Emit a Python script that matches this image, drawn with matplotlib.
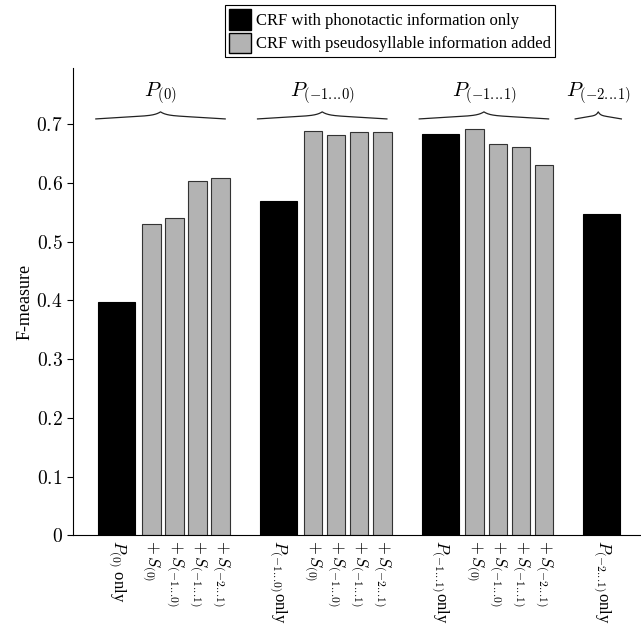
import numpy as np
import matplotlib
matplotlib.use('Agg')
import matplotlib.pyplot as plt
from matplotlib.patches import Patch

plt.rcParams['font.family'] = ['Liberation Serif', 'DejaVu Serif']
plt.rcParams['mathtext.fontset'] = 'cm'

# data
D = r'.\!.\!.\!'  # tight ellipsis
group_names = [r'$P_{(0)}$', r'$P_{(-1%s0)}$' % D, r'$P_{(-1%s1)}$' % D, r'$P_{(-2%s1)}$' % D]
phono_only = [0.397, 0.570, 0.683, 0.547]
pseudo_added = [[0.530, 0.540, 0.604, 0.608],
                [0.688, 0.681, 0.687, 0.686],
                [0.691, 0.667, 0.661, 0.631],
                []]
only_labels = [r'$P_{(0)}$ only', r'$P_{(-1%s0)}$only' % D,
               r'$P_{(-1%s1)}$only' % D, r'$P_{(-2%s1)}$only' % D]
added_labels = [r'$+\,S_{(0)}$', r'$+\,S_{(-1%s0)}$' % D,
                r'$+\,S_{(-1%s1)}$' % D, r'$+\,S_{(-2%s1)}$' % D]
yticks = [0, 0.1, 0.2, 0.3, 0.4, 0.5, 0.6, 0.7]

BLACK = 'black'
GRAY = '#b3b3b3'


def brace(ax, x0, x1, y, h):
    n = 101
    t = np.linspace(0, 1, n)
    yh = 0.55 * t + 0.45 * t ** 12
    xl = x0 + (x1 - x0) / 2 * t
    xr = x1 - (x1 - x0) / 2 * t
    xs = np.concatenate((xl, xr[::-1]))
    ys = y + h * np.concatenate((yh, yh[::-1]))
    ax.plot(xs, ys, color='#222222', lw=0.9, clip_on=False)


fig = plt.figure(figsize=(6.41, 6.28), dpi=100)
ax = fig.add_axes([0.114, 0.1475, 0.886, 0.7445])

pitch = 7
tick_pos = []
tick_lab = []
for g in range(len(group_names)):
    base = g * pitch
    ax.bar(base + 0.5, phono_only[g], width=1.6, color=BLACK, edgecolor='black', lw=0.8)
    tick_pos.append(base + 0.5)
    tick_lab.append(only_labels[g])
    xs = [base + 2 + i for i in range(len(pseudo_added[g]))]
    if xs:
        ax.bar(xs, pseudo_added[g], width=0.8, color=GRAY, edgecolor='#333333', lw=0.8)
        tick_pos += xs
        tick_lab += added_labels[:len(xs)]
    lo = base - 0.3
    hi = (xs[-1] + 0.4) if xs else base + 1.3
    c = (lo + hi) / 2
    span = max(hi - lo, 2.1)
    brace(ax, c - span / 2 - 0.1, c + span / 2 - 0.2, 0.709, 0.012)
    ax.text(c - 0.15, 0.753, group_names[g], ha='center', va='center', fontsize=15)

ax.set_xlim(-1.385, 23.2)
ax.set_ylim(0, 0.796)
ax.set_yticks(yticks)
ax.set_yticklabels(['$%g$' % v for v in yticks], fontsize=14)
ax.set_xticks(tick_pos)
ax.set_xticklabels(tick_lab, rotation=-90, fontsize=12)
ax.tick_params(axis='x', length=0, pad=3)
ax.tick_params(axis='y', direction='out', length=4, width=0.8)
ax.spines['top'].set_visible(False)
ax.spines['right'].set_visible(False)
ax.set_ylabel('F-measure', fontsize=13, labelpad=2)

handles = [Patch(facecolor=BLACK, edgecolor='black'),
           Patch(facecolor=GRAY, edgecolor='black')]
leg = fig.legend(handles, ['CRF with phonotactic information only',
                           'CRF with pseudosyllable information added'],
                 loc='upper center', bbox_to_anchor=(390 / 641, 1 - 5 / 628),
                 fontsize=12, fancybox=False, edgecolor='black', framealpha=1,
                 handlelength=1.35, handleheight=1.5, handletextpad=0.3,
                 borderpad=0.25, labelspacing=0.2, borderaxespad=0)
leg.get_frame().set_linewidth(0.8)

fig.savefig('out.png', dpi=100)
